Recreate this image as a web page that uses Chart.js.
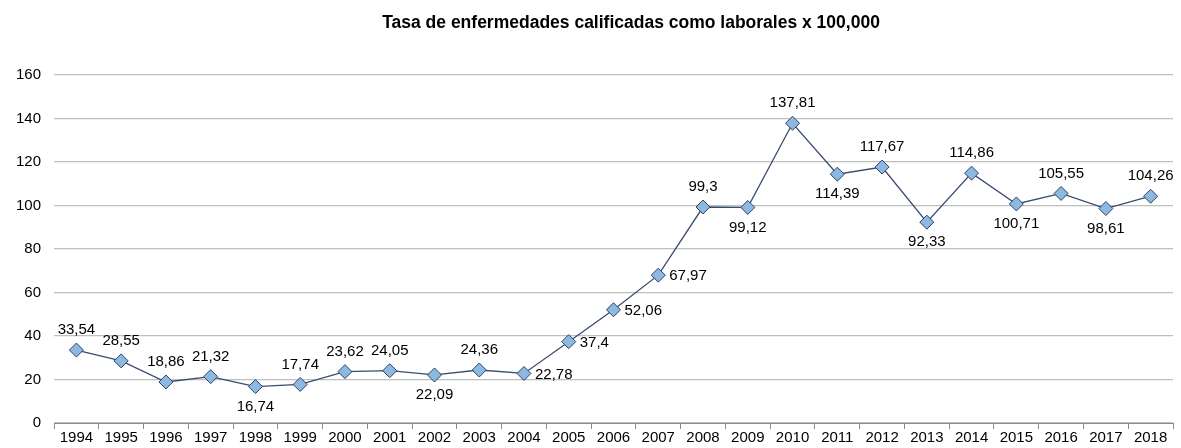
<!DOCTYPE html>
<html>
<head>
  <meta charset="utf-8">
  <title>Tasa de enfermedades calificadas como laborales</title>
  <style>
    body { margin: 0; background: #fff; }
  </style>
</head>
<body>
  <canvas id="canvas" width="1181" height="448"></canvas>

  <script src="https://cdn.jsdelivr.net/npm/chart.js"></script>
  <script>
    // Datos
    const years = ['1994','1995','1996','1997','1998','1999','2000','2001','2002','2003','2004','2005',
                   '2006','2007','2008','2009','2010','2011','2012','2013','2014','2015','2016','2017','2018'];
    const rates = [33.54, 28.55, 18.86, 21.32, 16.74, 17.74, 23.62, 24.05, 22.09, 24.36, 22.78, 37.4,
                   52.06, 67.97, 99.3, 99.12, 137.81, 114.39, 117.67, 92.33, 114.86, 100.71, 105.55, 98.61, 104.26];
    // posición de cada etiqueta: a = arriba, b = abajo, r = derecha
    const labelPos = ['a','a','a','a','b','a','a','a','b','a','r','r',
                      'r','r','a','b','a','b','a','b','a','b','a','b','a'];
    const chartTitle = 'Tasa de enfermedades calificadas como laborales x 100,000';

    const FONT = '"Liberation Sans", Arial, sans-serif';

    // Título (desplazado a la derecha como en el original) y etiquetas de valor
    const valueLabels = {
      id: 'valueLabels',
      afterDatasetsDraw(chart) {
        const ctx = chart.ctx;
        const meta = chart.getDatasetMeta(0);
        ctx.save();
        ctx.fillStyle = '#000';
        ctx.font = 'bold 17.5px ' + FONT;
        ctx.textAlign = 'center';
        ctx.textBaseline = 'middle';
        ctx.fillText(chartTitle, 631, 23);

        ctx.font = '15px ' + FONT;
        meta.data.forEach((pt, i) => {
          const txt = String(rates[i]).replace('.', ',');
          const p = labelPos[i];
          if (p === 'r') {
            ctx.textAlign = 'left';
            ctx.fillText(txt, pt.x + 11, pt.y + 1);
          } else if (p === 'b') {
            ctx.textAlign = 'center';
            ctx.fillText(txt, pt.x, pt.y + 20);
          } else {
            ctx.textAlign = 'center';
            ctx.fillText(txt, pt.x, pt.y - 20);
          }
        });
        ctx.restore();
      }
    };

    const chart = new Chart(document.getElementById('canvas').getContext('2d'), {
      type: 'line',
      data: {
        labels: years,
        datasets: [{
          data: rates,
          borderColor: '#3A4B70',
          borderWidth: 1.3,
          pointStyle: 'rectRot',
          pointRadius: 7,
          pointBackgroundColor: '#8DB8E0',
          pointBorderColor: '#2E4163',
          pointBorderWidth: 1,
          tension: 0
        }]
      },
      options: {
        responsive: false,
        animation: false,
        layout: { padding: { left: 3, right: 8, top: 75, bottom: 1 } },
        plugins: {
          legend: { display: false },
          tooltip: { enabled: false },
          title: { display: false }
        },
        scales: {
          x: {
            offset: true,
            grid: {
              offset: true,
              drawOnChartArea: false,
              drawTicks: true,
              tickLength: 6,
              color: '#8C8C8C'
            },
            border: { color: '#8C8C8C' },
            ticks: {
              color: '#000',
              font: { family: FONT, size: 15 },
              maxRotation: 0,
              autoSkip: false,
              padding: 0
            }
          },
          y: {
            min: 0,
            max: 160,
            ticks: {
              stepSize: 20,
              color: '#000',
              font: { family: FONT, size: 15 },
              padding: 13
            },
            grid: { color: '#BFBFBF', drawTicks: false, lineWidth: 1.3 },
            border: { display: false }
          }
        }
      },
      plugins: [valueLabels]
    });
  </script>
</body>
</html>
